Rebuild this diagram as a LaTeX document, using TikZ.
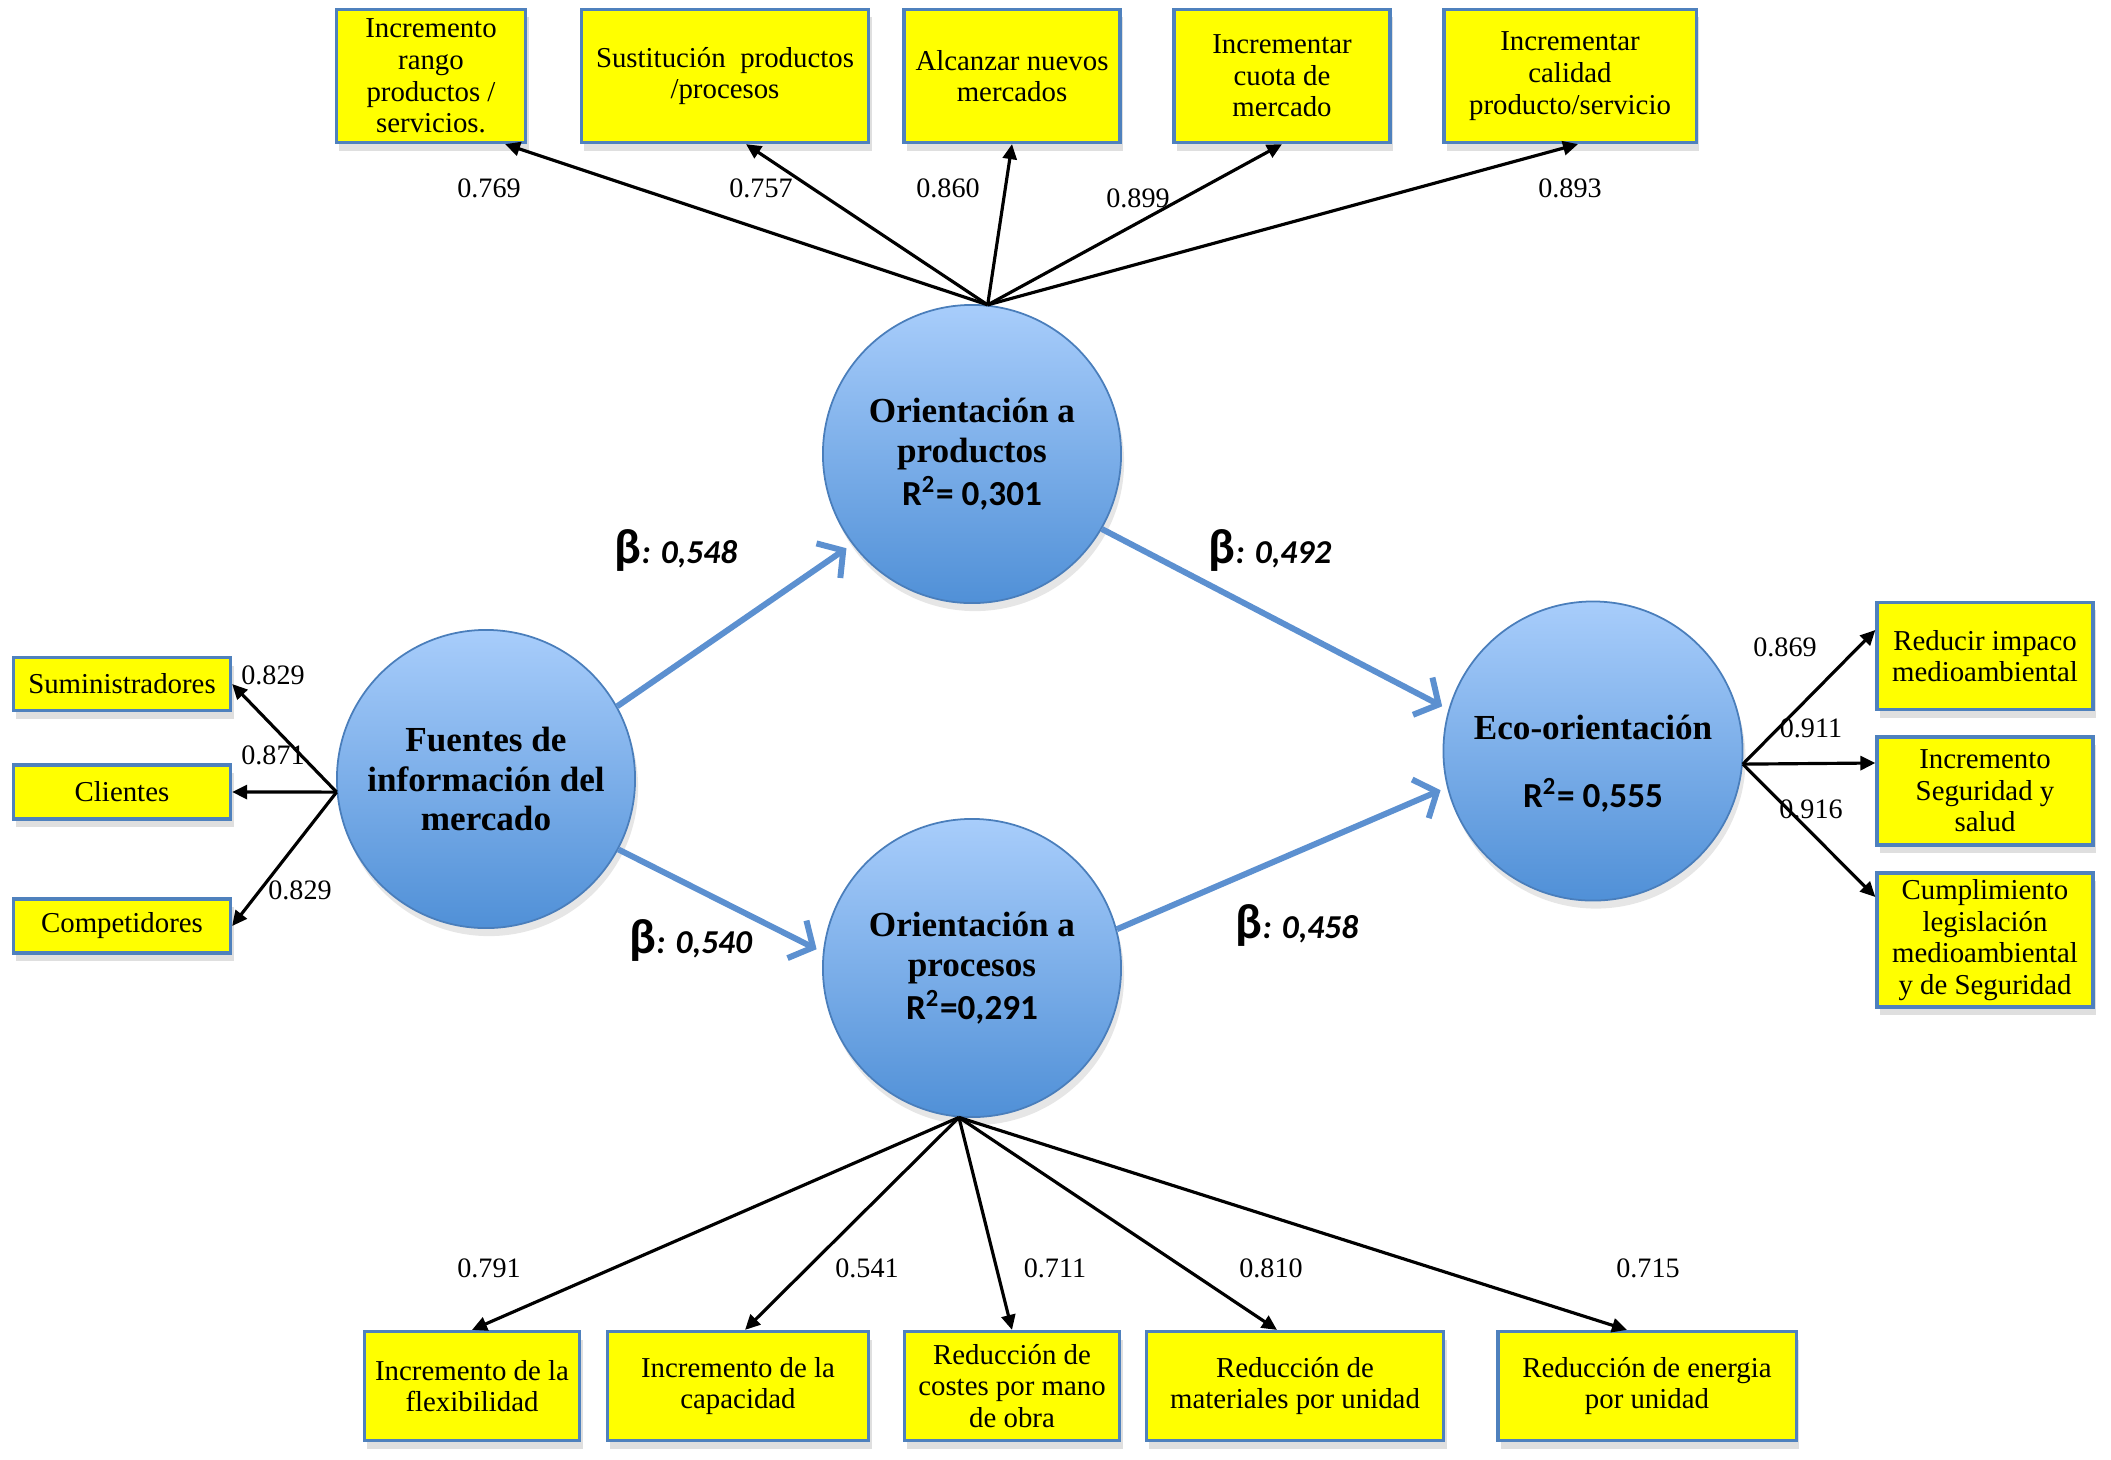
\documentclass[tikz,border=0pt]{standalone}
\usepackage{fontspec}
\setmainfont{Liberation Serif}
\newfontfamily\calibfont{Carlito}
\newcommand{\rsqfont}{\calibfont\bfseries\fontsize{10}{11}\selectfont}
\usetikzlibrary{arrows.meta, shadows}

\definecolor{boxyellow}{RGB}{255,255,0}
\definecolor{boxedge}{RGB}{79,129,189}
\definecolor{circtop}{RGB}{168,205,251}
\definecolor{circbot}{RGB}{80,144,215}
\definecolor{circedge}{RGB}{74,126,187}
\definecolor{pathblue}{RGB}{92,144,208}

\begin{document}
\begin{tikzpicture}[
    % GLOBAL CFG (1 unit = 1 px of the original figure)
    x=0.01cm, y=-0.01cm,
    % Styles
    indicator/.style={
        rectangle,
        draw=boxedge,
        fill=boxyellow,
        line width=0.9pt,
        align=center,
        inner sep=1pt,
        font=\fontsize{8.2}{9}\selectfont,
        drop shadow={shadow xshift=0.3mm, shadow yshift=-0.8mm, opacity=0.25},
    },
    construct/.style={
        circle,
        draw=circedge,
        line width=0.5pt,
        minimum size=2.98cm,
        top color=circtop,
        bottom color=circbot,
        align=center,
        font=\fontsize{10}{11.2}\selectfont\bfseries,
        drop shadow={shadow xshift=0.3mm, shadow yshift=-0.8mm, opacity=0.2},
    },
    loading/.style={
        inner sep=0pt,
        font=\fontsize{8}{9}\selectfont
    },
    beta/.style={
        inner sep=0pt,
        font=\calibfont\bfseries\fontsize{9.5}{10}\selectfont
    },
    LoadArrow/.style={
        -{Triangle[length=1.5mm, width=1.4mm]},
        line width=0.9pt,
    },
    PathArrow/.style={
        -{Straight Barb[length=1.8mm, width=4.2mm]},
        draw=pathblue,
        line width=1.7pt,
        shorten >=0.07cm,
    },
]
    \useasboundingbox (0,0) rectangle (2111,1459);

    % Draw the constructs
    \node [construct] (fuentes) at (486,779) {Fuentes de\\información del\\mercado};
    \node [construct] (prod) at (972,454) {Orientación a\\productos\\[1pt]{\rsqfont R\textsuperscript{2}= 0,301}};
    \node [construct] (proc) at (972,968) {Orientación a\\procesos\\[1pt]{\rsqfont R\textsuperscript{2}=0,291}};
    \node [construct] (eco) at (1593,751) {\rule{0pt}{14pt}Eco-orientación\\[8pt]{\rsqfont R\textsuperscript{2}= 0,555}};

    % Indicators of Fuentes
    \node [indicator, minimum width=2.17cm, minimum height=0.53cm] (f1) at (122,684) {Suministradores};
    \node [indicator, minimum width=2.17cm, minimum height=0.54cm] (f2) at (122,792) {Clientes};
    \node [indicator, minimum width=2.17cm, minimum height=0.54cm] (f3) at (122,926) {Competidores};

    % Indicators of productos
    \node [indicator, minimum width=1.89cm, minimum height=1.33cm] (p1) at (431,76) {Incremento\\rango\\productos /\\servicios.};
    \node [indicator, minimum width=2.87cm, minimum height=1.33cm] (p2) at (725,76) {Sustitución~ productos\\/procesos};
    \node [indicator, minimum width=2.16cm, minimum height=1.33cm] (p3) at (1012,76) {Alcanzar nuevos\\mercados};
    \node [indicator, minimum width=2.16cm, minimum height=1.33cm] (p4) at (1282,76) {Incrementar\\cuota de\\mercado};
    \node [indicator, minimum width=2.52cm, minimum height=1.33cm] (p5) at (1570,76) {Incrementar\\calidad\\producto/servicio};

    % Indicators of procesos
    \node [indicator, minimum width=2.15cm, minimum height=1.09cm] (q1) at (472,1386) {Incremento de la\\flexibilidad};
    \node [indicator, minimum width=2.61cm, minimum height=1.09cm] (q2) at (738,1386) {Incremento de la\\capacidad};
    \node [indicator, minimum width=2.15cm, minimum height=1.09cm] (q3) at (1012,1386) {Reducción de\\costes por mano\\de obra};
    \node [indicator, minimum width=2.97cm, minimum height=1.09cm] (q4) at (1295,1386) {Reducción de\\materiales por unidad};
    \node [indicator, minimum width=2.98cm, minimum height=1.09cm] (q5) at (1647,1386) {Reducción de energia\\por unidad};

    % Indicators of Eco-orientación
    \node [indicator, minimum width=2.16cm, minimum height=1.07cm] (e1) at (1985,656) {Reducir impaco\\medioambiental};
    \node [indicator, minimum width=2.16cm, minimum height=1.08cm] (e2) at (1985,791) {Incremento\\Seguridad y\\salud};
    \node [indicator, minimum width=2.16cm, minimum height=1.34cm] (e3) at (1985,940) {Cumplimiento\\legislación\\medioambiental\\y de Seguridad};

    % Loadings
    \node [loading] (lf1) at (273,675) {0.829};
    \node [loading] (lf2) at (273,755) {0.871};
    \node [loading] (lf3) at (300,890) {0.829};
    \node [loading] (lp1) at (489,188) {0.769};
    \node [loading] (lp2) at (761,188) {0.757};
    \node [loading] (lp3) at (948,188) {0.860};
    \node [loading] (lp4) at (1138,198) {0.899};
    \node [loading] (lp5) at (1570,188) {0.893};
    \node [loading] (lq1) at (489,1268) {0.791};
    \node [loading] (lq2) at (867,1268) {0.541};
    \node [loading] (lq3) at (1055,1268) {0.711};
    \node [loading] (lq4) at (1271,1268) {0.810};
    \node [loading] (lq5) at (1648,1268) {0.715};
    \node [loading] (le1) at (1785,647) {0.869};
    \node [loading] (le2) at (1811,728) {0.911};
    \node [loading] (le3) at (1811,809) {0.916};

    % Path coefficients
    \node [beta] (b1) at (676,550) {{\fontsize{14}{14}\selectfont β}\textit{: 0,548}};
    \node [beta] (b2) at (1270,550) {{\fontsize{14}{14}\selectfont β}\textit{: 0,492}};
    \node [beta] (b3) at (691,940) {{\fontsize{14}{14}\selectfont β}\textit{: 0,540}};
    \node [beta] (b4) at (1297,925) {{\fontsize{14}{14}\selectfont β}\textit{: 0,458}};

% Start connecting all.
    % Structural paths
    \draw [PathArrow] (fuentes.29.5) -- (prod.217.5);
    \draw [PathArrow] (fuentes.-28.5) -- (proc.174);
    \draw [PathArrow] (prod.-30) -- (eco.164);
    \draw [PathArrow] (proc.15.5) -- (eco.194.7);

    % Loadings, Fuentes
    \draw [LoadArrow] (fuentes.185) -- (f1.east);
    \draw [LoadArrow] (fuentes.185) -- (f2.east);
    \draw [LoadArrow] (fuentes.185) -- (f3.east);

    % Loadings, productos
    \draw [LoadArrow] (prod.84) -- ([xshift=0.74cm]p1.south);
    \draw [LoadArrow] (prod.84) -- ([xshift=0.21cm]p2.south);
    \draw [LoadArrow] (prod.84) -- (p3.south);
    \draw [LoadArrow] (prod.84) -- (p4.south);
    \draw [LoadArrow] (prod.84) -- ([xshift=0.08cm]p5.south);

    % Loadings, procesos
    \draw [LoadArrow] (proc.265) -- (q1.north);
    \draw [LoadArrow] (proc.265) -- ([xshift=0.07cm]q2.north);
    \draw [LoadArrow] (proc.265) -- (q3.north);
    \draw [LoadArrow] (proc.265) -- ([xshift=-0.18cm]q4.north);
    \draw [LoadArrow] (proc.265) -- ([xshift=-0.2cm]q5.north);

    % Loadings, Eco-orientación
    \draw [LoadArrow] (eco.-5) -- ([yshift=0.26cm]e1.west);
    \draw [LoadArrow] (eco.-5) -- ([yshift=0.28cm]e2.west);
    \draw [LoadArrow] (eco.-5) -- ([yshift=0.43cm]e3.west);

\end{tikzpicture}
\end{document}
